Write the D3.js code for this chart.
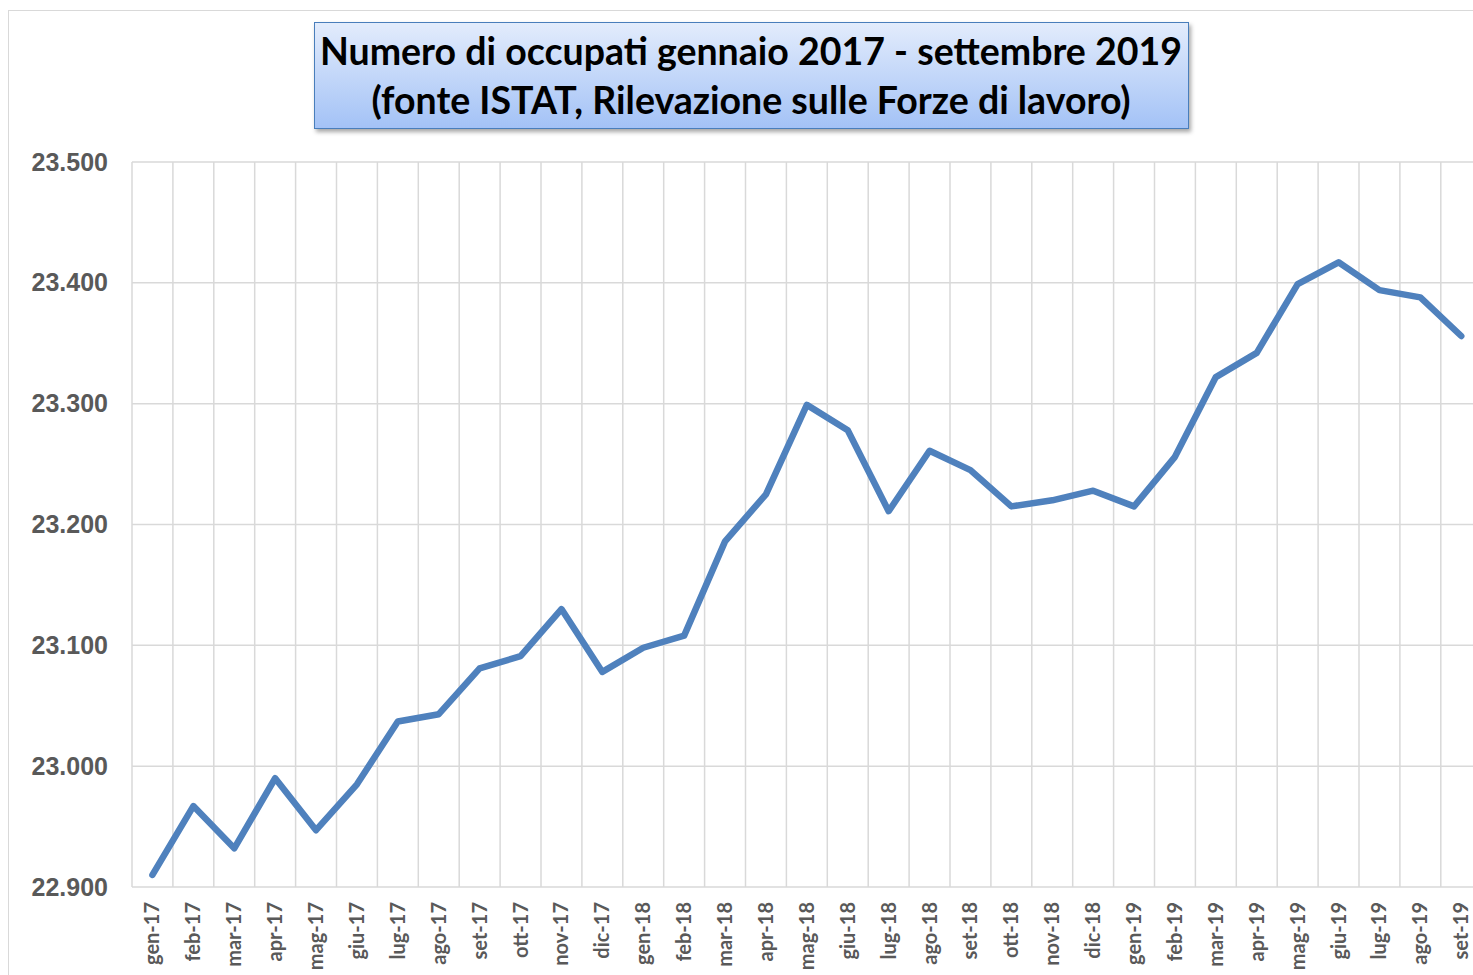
<!DOCTYPE html>
<html>
<head>
<meta charset="utf-8">
<script src="https://cdn.jsdelivr.net/npm/d3@7"></script>
<style>
  body { margin: 0; background: #fff; }
  svg { display: block; }
</style>
</head>
<body>
<div id="chart"></div>
<script>
// mesi e valori (migliaia di occupati)
var mesi = ["gen-17","feb-17","mar-17","apr-17","mag-17","giu-17","lug-17","ago-17","set-17","ott-17","nov-17","dic-17",
            "gen-18","feb-18","mar-18","apr-18","mag-18","giu-18","lug-18","ago-18","set-18","ott-18","nov-18","dic-18",
            "gen-19","feb-19","mar-19","apr-19","mag-19","giu-19","lug-19","ago-19","set-19"];
var occupati = [22910, 22967, 22932, 22990, 22947, 22985, 23037, 23043, 23081, 23091, 23130, 23078,
                23098, 23108, 23186, 23225, 23299, 23278, 23211, 23261, 23245, 23215, 23220, 23228,
                23215, 23256, 23322, 23342, 23399, 23417, 23394, 23388, 23356];
var yTicks = [22900, 23000, 23100, 23200, 23300, 23400, 23500];
var titolo = ["Numero di occupati gennaio 2017 - settembre 2019",
              "(fonte ISTAT, Rilevazione sulle Forze di lavoro)"];

var width = 1473, height = 975;
var plotLeft = 132, plotTop = 162, plotBottom = 887;
var band = 40.9;
var plotRight = plotLeft + band * mesi.length;

var svg = d3.select("#chart").append("svg")
    .attr("width", width)
    .attr("height", height);

var defs = svg.append("defs");
var grad = defs.append("linearGradient").attr("id", "tgrad")
    .attr("x1", 0).attr("y1", 0).attr("x2", 0).attr("y2", 1);
grad.append("stop").attr("offset", "0%").attr("stop-color", "#e3ecfc");
grad.append("stop").attr("offset", "100%").attr("stop-color", "#a3c2f6");
var shadow = defs.append("filter").attr("id", "shadow")
    .attr("x", "-5%").attr("y", "-20%").attr("width", "110%").attr("height", "150%");
shadow.append("feDropShadow").attr("dx", 2).attr("dy", 3).attr("stdDeviation", 2)
    .attr("flood-color", "#000").attr("flood-opacity", 0.35);

// bordo esterno del grafico
svg.append("rect")
    .attr("x", 8.5).attr("y", 10.5)
    .attr("width", width + 20).attr("height", height)
    .attr("fill", "none").attr("stroke", "#d9d9d9").attr("stroke-width", 1);

var x = d3.scaleBand()
    .domain(mesi)
    .range([plotLeft, plotRight]);

var y = d3.scaleLinear()
    .domain([22900, 23500])
    .range([plotBottom, plotTop]);

// griglia orizzontale
svg.append("g")
    .selectAll("line")
    .data(yTicks)
    .join("line")
    .attr("x1", plotLeft).attr("x2", plotRight)
    .attr("y1", d => y(d)).attr("y2", d => y(d))
    .attr("stroke", "#d9d9d9").attr("stroke-width", 1.5);

// griglia verticale (tra le categorie)
svg.append("g")
    .selectAll("line")
    .data(mesi)
    .join("line")
    .attr("x1", d => x(d)).attr("x2", d => x(d))
    .attr("y1", plotTop).attr("y2", plotBottom)
    .attr("stroke", "#d9d9d9").attr("stroke-width", 1.5);

// asse y
var yAxis = d3.axisLeft(y)
    .tickValues(yTicks)
    .tickSize(0)
    .tickPadding(24)
    .tickFormat(d => d3.format(",.3f")(d / 1000).replace(",", "."));

svg.append("g")
    .attr("transform", `translate(${plotLeft},0)`)
    .call(yAxis)
    .call(g => g.select(".domain").remove())
    .selectAll("text")
    .attr("fill", "#595959")
    .style("font-family", "'Liberation Sans', Arial, sans-serif")
    .style("font-weight", "bold")
    .style("font-size", "25px");

// asse x
var xAxis = d3.axisBottom(x).tickSize(0).tickPadding(0);
svg.append("g")
    .attr("transform", `translate(0,${plotBottom})`)
    .call(xAxis)
    .call(g => g.select(".domain").remove())
    .selectAll("text")
    .attr("transform", "rotate(-90)")
    .attr("x", -15)
    .attr("y", 0)
    .attr("dy", "0.35em")
    .attr("text-anchor", "end")
    .attr("fill", "#595959")
    .style("font-family", "Lato, 'Open Sans', sans-serif")
    .style("font-weight", "bold")
    .style("font-size", "20px");

// linea
var line = d3.line()
    .x((d, i) => x(mesi[i]) + x.bandwidth() / 2)
    .y(d => y(d));

svg.append("path")
    .datum(occupati)
    .attr("d", line)
    .attr("fill", "none")
    .attr("stroke", "#4f81bd")
    .attr("stroke-width", 6.5)
    .attr("stroke-linecap", "round")
    .attr("stroke-linejoin", "round");

// titolo
var tg = svg.append("g");
tg.append("rect")
    .attr("x", 314.5).attr("y", 22.5)
    .attr("width", 874).attr("height", 106)
    .attr("fill", "url(#tgrad)")
    .attr("stroke", "#4a7ebb").attr("stroke-width", 1)
    .attr("filter", "url(#shadow)");
tg.selectAll("text")
    .data(titolo)
    .join("text")
    .attr("x", 751)
    .attr("y", (d, i) => 65 + i * 49)
    .attr("text-anchor", "middle")
    .attr("fill", "#000")
    .style("font-family", "Lato, 'Open Sans', sans-serif")
    .style("font-weight", "bold")
    .style("font-size", "37.5px")
    .text(d => d);
</script>
</body>
</html>
